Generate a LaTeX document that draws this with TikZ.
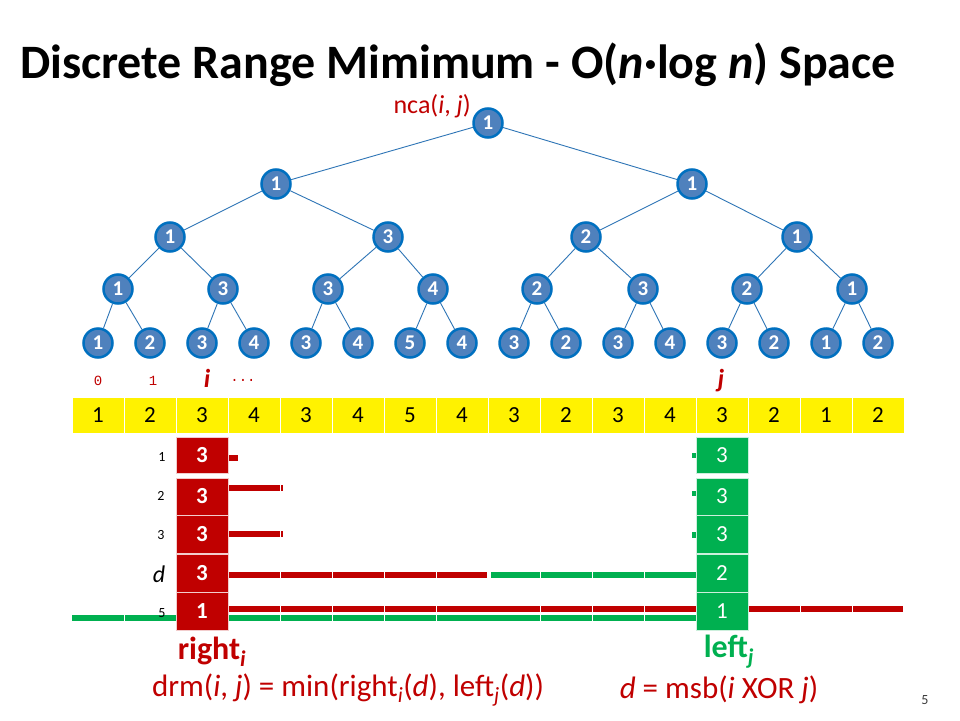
\documentclass[tikz,border=0pt]{standalone}
\usepackage{fontspec}
\setmainfont{Carlito}
\newfontfamily\monofont{Liberation Mono}
\definecolor{dred}{RGB}{192,0,0}
\definecolor{dgreen}{RGB}{0,176,80}
\definecolor{nodefill}{RGB}{79,129,189}
\definecolor{nodeline}{RGB}{0,112,192}
\definecolor{edgeline}{RGB}{46,117,182}
\definecolor{pagegray}{RGB}{60,60,60}
\tikzset{
  tnode/.style={circle,fill=nodefill,draw=nodeline,line width=2.5pt,minimum size=29pt,inner sep=0pt,text=white,font=\fontsize{21}{21}\selectfont\bfseries},
  tedge/.style={draw=edgeline,line width=0.9pt},
  cell/.style={rectangle,fill=yellow,draw=white,line width=1pt,minimum width=52pt,minimum height=36pt,inner sep=0pt,font=\fontsize{23}{23}\selectfont},
  rbox/.style={rectangle,fill=dred,draw=white!80!dred,line width=1pt,minimum width=52pt,inner sep=0pt,text=white,font=\fontsize{23}{23}\selectfont\bfseries},
  gbox/.style={rectangle,fill=dgreen,draw=white!80!dgreen,line width=1pt,minimum width=52pt,inner sep=0pt,text=white,font=\fontsize{23}{23}\selectfont},
  rowlab/.style={font=\fontsize{14}{14}\selectfont,inner sep=0pt},
  idxlab/.style={text=dred,font=\monofont\fontsize{14}{14}\selectfont,inner sep=0pt},
}
\begin{document}
\begin{tikzpicture}[x=1pt,y=-1pt]
\useasboundingbox (0,0) rectangle (960,720);
\fill[white] (0,0) rectangle (960,720);
% title
\node[anchor=base west,inner sep=0pt,font=\fontsize{48}{48}\selectfont\bfseries] (title) at (20,78) {Discrete Range Mimimum - O(\textit{n}·log \textit{n}) Space};
% tree nodes
\node[tnode] (R) at (488,123) {1};
\node[tnode] (C0) at (276,184) {1};
\node[tnode] (C1) at (692,184) {1};
\foreach \x/\v [count=\k from 0] in {170/1,388/3,586/2,797/1}
  \node[tnode] (B\k) at (\x,237) {\v};
\foreach \x/\v [count=\k from 0] in {118/1,223/3,328/3,433/4,537/2,643/3,747/2,852/1}
  \node[tnode] (A\k) at (\x,289) {\v};
\foreach \v [count=\k from 0] in {1,2,3,4,3,4,5,4,3,2,3,4,3,2,1,2}
  \node[tnode] (L\k) at (98+52*\k,343) {\v};
% tree edges
\draw[tedge] (R) -- (C0); \draw[tedge] (R) -- (C1);
\draw[tedge] (C0) -- (B0); \draw[tedge] (C0) -- (B1);
\draw[tedge] (C1) -- (B2); \draw[tedge] (C1) -- (B3);
\foreach \p/\a/\b in {0/0/1,1/2/3,2/4/5,3/6/7} {
  \draw[tedge] (B\p) -- (A\a); \draw[tedge] (B\p) -- (A\b);
}
\foreach \p/\a/\b in {0/0/1,1/2/3,2/4/5,3/6/7,4/8/9,5/10/11,6/12/13,7/14/15} {
  \draw[tedge] (A\p) -- (L\a); \draw[tedge] (A\p) -- (L\b);
}
\node[text=dred,font=\fontsize{26}{26}\selectfont,anchor=east,inner sep=0pt] (nca) at (471,106) {nca(\textit{i}, \textit{j})};
% array
\foreach \v [count=\k from 0] in {1,2,3,4,3,4,5,4,3,2,3,4,3,2,1,2}
  \node[cell] (a\k) at (98+52*\k,415) {\v};
% index labels
\node[idxlab] (i0) at (98,381) {0};
\node[idxlab] (i1) at (153,381) {1};
\node[text=dred,font=\fontsize{26}{26}\selectfont\bfseries\itshape,inner sep=0pt] (ii) at (207,378) {i};
\node[idxlab] (idots) at (243,380) {...};
\node[text=dred,font=\fontsize{26}{26}\selectfont\bfseries\itshape,inner sep=0pt] (jj) at (721,381) {j};
% bars (drawn before boxes)
\fill[dred] (228,455) rectangle (238,461);
\fill[dred] (228,485) rectangle (283,491);
\fill[dred] (228,531) rectangle (283,537);
\fill[dred] (228,572) rectangle (487,578);
\fill[dgreen] (491,572) rectangle (696,578);
\fill[dred] (228,606) rectangle (696,612);
\fill[dred] (748,606) rectangle (903,612);
\fill[dgreen] (72,615) rectangle (696,621);
\fill[dgreen] (692,453) rectangle (696,458);
\fill[dgreen] (692,491) rectangle (696,496);
\fill[dgreen] (692,532) rectangle (696,538);
\foreach \s in {124,280,332,384,436,540,592,644,800,852}
  \draw[white,line width=1pt] (\s,484) -- (\s,622);
% right_i column
\node[rbox,minimum height=36pt] (r1) at (202,455) {3};
\node[rbox,minimum height=37pt] (r2) at (202,496.5) {3};
\node[rbox,minimum height=38pt] (r3) at (202,534.5) {3};
\node[rbox,minimum height=38pt] (r4) at (202,573) {3};
\node[rbox,minimum height=38pt] (r5) at (202,611.5) {1};
% left_j column
\node[gbox,minimum height=36pt] (g1) at (722,455) {3};
\node[gbox,minimum height=37pt] (g2) at (722,496.5) {3};
\node[gbox,minimum height=38pt] (g3) at (722,534.5) {3};
\node[gbox,minimum height=38pt] (g4) at (722,573) {2};
\node[gbox,minimum height=38pt] (g5) at (722,611.5) {1};
% row labels
\node[rowlab] (d1) at (162,457) {1};
\node[rowlab] (d2) at (161,496) {2};
\node[rowlab] (d3) at (161,535) {3};
\node[font=\fontsize{24}{24}\selectfont\itshape,inner sep=0pt] (dd) at (159,574) {d};
\node[rowlab] (d5) at (162,613) {5};
% bottom labels
\node[text=dred,font=\fontsize{32}{32}\selectfont\bfseries,inner sep=0pt] (rightl) at (212,652) {right\textsubscript{\textit{i}}};
\node[text=dgreen,font=\fontsize{32}{32}\selectfont\bfseries,inner sep=0pt] (leftl) at (729,652) {left\textsubscript{\textit{j}}};
\node[text=dred,font=\fontsize{31}{31}\selectfont,inner sep=0pt] (drm) at (348,690) {drm(\textit{i}, \textit{j}) = min(right\textsubscript{\textit{i}}(\textit{d}), left\textsubscript{\textit{j}}(\textit{d}))};
\node[text=dred,font=\fontsize{31}{31}\selectfont,inner sep=0pt] (msb) at (719,690) {\textit{d} = msb(\textit{i} XOR \textit{j})};
\node[text=pagegray,font=\fontsize{14}{14}\selectfont,inner sep=0pt] (pg) at (925,700) {5};
\end{tikzpicture}
\end{document}
